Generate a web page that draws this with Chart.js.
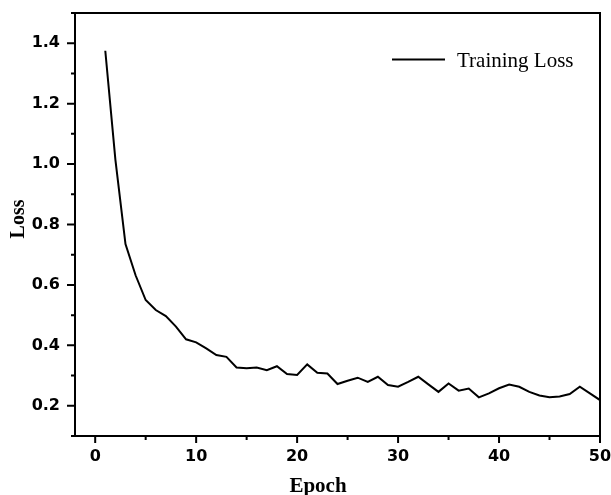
<!DOCTYPE html>
<html><head><meta charset="utf-8">
<script src="https://cdn.jsdelivr.net/npm/chart.js@4"></script>
<style>html,body{margin:0;padding:0;background:#fff}canvas{display:block}</style>
</head><body>
<canvas id="c" width="611" height="495"></canvas>
<script>
const epochs = [1,2,3,4,5,6,7,8,9,10,11,12,13,14,15,16,17,18,19,20,21,22,23,24,25,26,27,28,29,30,31,32,33,34,35,36,37,38,39,40,41,42,43,44,45,46,47,48,49,50];
const loss = [1.375,1.015,0.735,0.632,0.55,0.517,0.497,0.462,0.42,0.41,0.39,0.368,0.362,0.327,0.324,0.327,0.318,0.331,0.305,0.302,0.337,0.309,0.307,0.272,0.283,0.293,0.279,0.296,0.269,0.263,0.279,0.296,0.271,0.246,0.274,0.25,0.257,0.228,0.241,0.258,0.27,0.263,0.246,0.234,0.228,0.231,0.239,0.263,0.241,0.219];
const xTickLabels = [0,10,20,30,40,50];
const yTickLabels = [0.2,0.4,0.6,0.8,1.0,1.2,1.4];
const seriesName = 'Training Loss';
const xTitle = 'Epoch';
const yTitle = 'Loss';

const isMajorX = v => xTickLabels.some(t => Math.abs(t - v) < 1e-6);
const isMajorY = v => yTickLabels.some(t => Math.abs(t - v) < 1e-6);

// tick positions (major + minor halfway between labelled ticks)
function withMinor(labels, lo, hi) {
  const step = (labels[1] - labels[0]) / 2;
  const out = [];
  for (let k = Math.ceil((lo - labels[0]) / step - 1e-9); labels[0] + k * step <= hi + 1e-9; k++) {
    out.push({value: Math.round((labels[0] + k * step) * 1000) / 1000});
  }
  return out;
}

const framePlugin = {
  id: 'frame',
  afterDraw(chart) {
    const {ctx, chartArea: a, scales: {x, y}} = chart;
    ctx.save();
    ctx.strokeStyle = '#000';
    ctx.lineWidth = 2;
    ctx.strokeRect(a.left, a.top, a.right - a.left, a.bottom - a.top);
    ctx.beginPath();
    x.ticks.forEach(t => {
      const p = x.getPixelForValue(t.value);
      const len = isMajorX(t.value) ? 7 : 4;
      ctx.moveTo(p, a.bottom);
      ctx.lineTo(p, a.bottom + len);
    });
    y.ticks.forEach(t => {
      const p = y.getPixelForValue(t.value);
      const len = isMajorY(t.value) ? 8 : 4;
      ctx.moveTo(a.left, p);
      ctx.lineTo(a.left - len, p);
    });
    ctx.stroke();

    // legend
    ctx.beginPath();
    ctx.moveTo(392, 59.5);
    ctx.lineTo(445, 59.5);
    ctx.stroke();
    ctx.fillStyle = '#000';
    ctx.font = '21px "Liberation Serif"';
    ctx.textBaseline = 'alphabetic';
    ctx.textAlign = 'left';
    ctx.fillText(seriesName, 457, 67);

    // axis titles
    ctx.font = 'bold 21px "Liberation Serif"';
    ctx.textAlign = 'center';
    ctx.fillText(xTitle, 318, 492);
    ctx.save();
    ctx.translate(24, 219);
    ctx.rotate(-Math.PI / 2);
    ctx.font = 'bold 20px "Liberation Serif"';
    ctx.fillText(yTitle, 0, 0);
    ctx.restore();
    ctx.restore();
  }
};

const tickFont = {family: 'DejaVu Sans', weight: 'bold', size: 16};

new Chart(document.getElementById('c'), {
  type: 'line',
  data: {
    datasets: [{
      label: seriesName,
      data: epochs.map((e, i) => ({x: e, y: loss[i]})),
      borderColor: '#000',
      borderWidth: 2,
      pointRadius: 0,
      tension: 0,
      fill: false
    }]
  },
  options: {
    responsive: false,
    animation: false,
    layout: {padding: {top: 13, right: 11, left: 0, bottom: 0}},
    plugins: {legend: {display: false}, tooltip: {enabled: false}},
    scales: {
      x: {
        type: 'linear', min: -2, max: 50,
        afterBuildTicks: s => { s.ticks = withMinor(xTickLabels, -2, 50); },
        afterFit: s => { s.height = 59; s.paddingLeft = 0; s.paddingRight = 0; },
        grid: {display: false, drawTicks: false},
        border: {display: false},
        ticks: {autoSkip: false, maxRotation: 0, padding: 11, color: '#000', font: tickFont,
          callback: v => isMajorX(v) ? String(v) : ''}
      },
      y: {
        type: 'linear', min: 0.1, max: 1.5,
        afterBuildTicks: s => { s.ticks = withMinor(yTickLabels, 0.1, 1.5); },
        afterFit: s => { s.width = 75; s.paddingTop = 0; s.paddingBottom = 0; },
        grid: {display: false, drawTicks: false},
        border: {display: false},
        ticks: {autoSkip: false, padding: 15, color: '#000', font: tickFont,
          callback: v => isMajorY(v) ? v.toFixed(1) : ''}
      }
    }
  },
  plugins: [framePlugin]
});
</script>
</body></html>
